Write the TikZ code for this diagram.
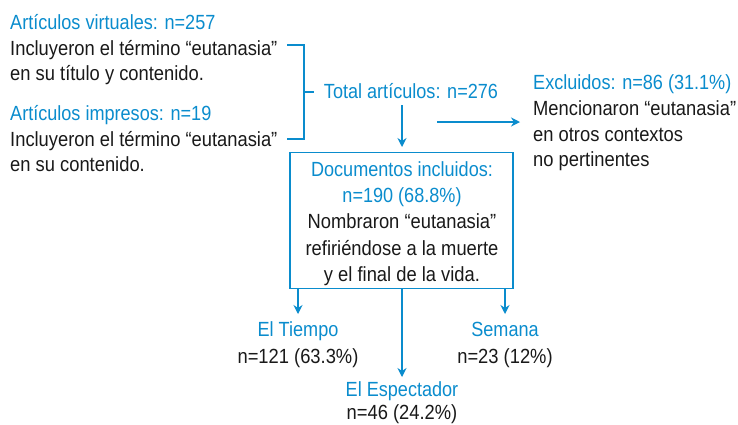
\documentclass[tikz,border=0pt]{standalone}
\usepackage{fontspec}
\setmainfont{Liberation Sans}[FakeStretch=0.895]
\newfontfamily\azulfont{Liberation Sans}[FakeStretch=0.882]
\definecolor{azul}{RGB}{10,140,205}
\usetikzlibrary{arrows.meta}
\tikzset{
 tx/.style={inner sep=0pt,font=\fontsize{20.5pt}{24pt}\selectfont,anchor=base west,text=black!90},
 bl/.style={tx,text=azul,font=\azulfont\fontsize{20.5pt}{24pt}\selectfont},
 cn/.style={tx,anchor=base},
 cb/.style={bl,anchor=base},
 ln/.style={draw=azul,line width=1.2pt},
 ar/.style={ln,-{Stealth[length=9pt,width=9pt]}},
}
\begin{document}
\begin{tikzpicture}[x=1pt,y=-1pt]
\useasboundingbox (0,0) rectangle (738,424);
\node[bl] (a1) at (10,29) {Artículos virtuales: n=257};
\node[tx] (a2) at (10,55) {Incluyeron el término “eutanasia”};
\node[tx] (a3) at (10,80.5) {en su título y contenido.};
\node[bl] (b1) at (10,120) {Artículos impresos: n=19};
\node[tx] (b2) at (10,146) {Incluyeron el término “eutanasia”};
\node[tx] (b3) at (10,171.5) {en su contenido.};
\node[cb] (t) at (411,98) {Total artículos: n=276};
\node[bl] (e1) at (533,89) {Excluidos: n=86 (31.1\%)};
\node[tx] (e2) at (533,115) {Mencionaron “eutanasia”};
\node[tx] (e3) at (533,141) {en otros contextos};
\node[tx] (e4) at (533,166.5) {no pertinentes};
\node[draw=azul,line width=1.2pt,minimum width=223pt,minimum height=136pt,inner sep=0pt] (box) at (401.5,220.5) {};
\node[cb] (d1) at (402,176) {Documentos incluidos:};
\node[cb] (d2) at (402,202) {n=190 (68.8\%)};
\node[cn] (d3) at (402,228) {Nombraron “eutanasia”};
\node[cn] (d4) at (402,255) {refiriéndose a la muerte};
\node[cn] (d5) at (402,281) {y el final de la vida.};
\node[cb] (g1) at (298,336) {El Tiempo};
\node[cn] (g2) at (298,363) {n=121 (63.3\%)};
\node[cb] (h1) at (505,336) {Semana};
\node[cn] (h2) at (505,363) {n=23 (12\%)};
\node[cb] (i1) at (402,396) {El Espectador};
\node[cn] (i2) at (402,419) {n=46 (24.2\%)};
\coordinate (c1) at (287,45);
\coordinate (c2) at (304,45);
\coordinate (c3) at (304,139);
\coordinate (c4) at (287,139);
\coordinate (c5) at (304,92);
\coordinate (c6) at (314,92);
\coordinate (s1) at (402,105);
\coordinate (x1) at (437,122);
\coordinate (x2) at (520,122);
\draw[ln] (c1) -- (c2) -- (c3) -- (c4);
\draw[ln] (c5) -- (c6);
\draw[ar] (s1) -- (402,147);
\draw[ar] (x1) -- (x2);
\draw[ar] (box.south-|g1) -- (g1|-0,314);
\draw[ar] (box.south-|h1) -- (h1|-0,314);
\draw[ar] (box.south-|i1) -- (i1|-0,377);
\end{tikzpicture}
\end{document}
